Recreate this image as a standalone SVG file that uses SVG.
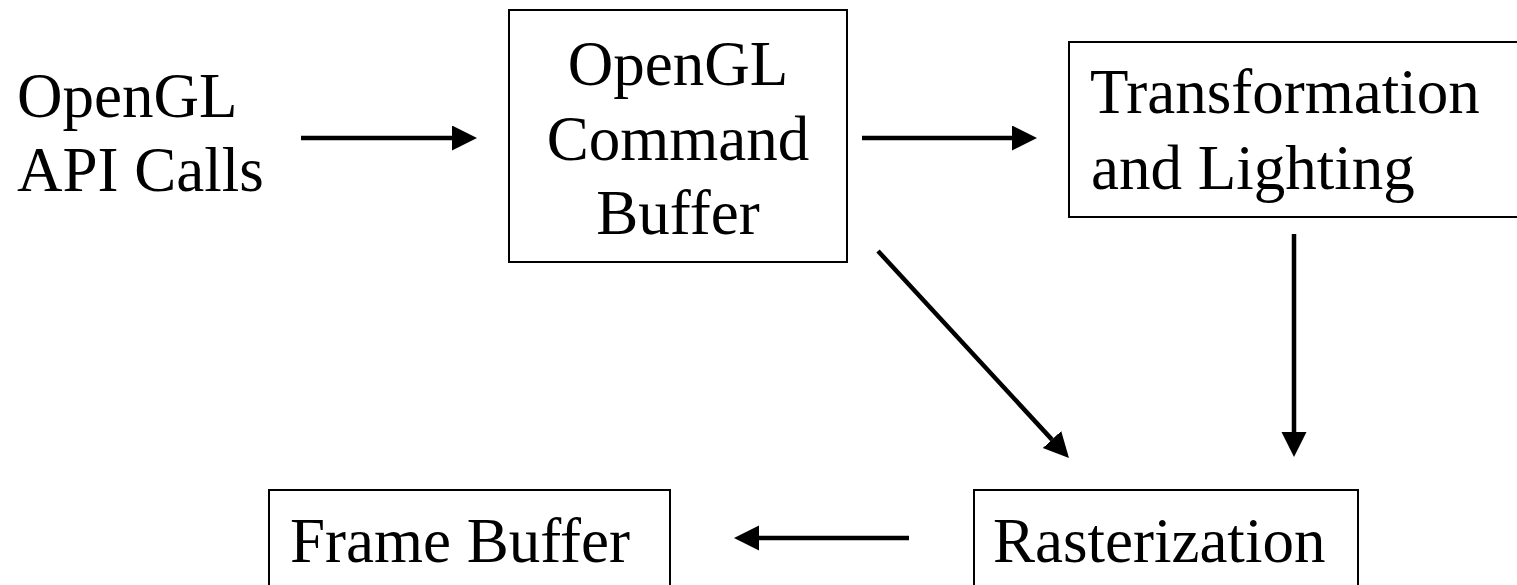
<svg xmlns="http://www.w3.org/2000/svg" width="1517" height="585" viewBox="0 0 1517 585">
  <style>
    .lbl { font-family: "Liberation Serif", "Times New Roman", serif; font-size: 63px; fill: #000; }
    .box { fill: #fff; stroke: #000; stroke-width: 2; }
    .wire { stroke: #000; stroke-width: 4.5; fill: none; marker-end: url(#head); }
  </style>
  <defs>
    <marker id="head" markerUnits="userSpaceOnUse" markerWidth="26" markerHeight="26" refX="0" refY="12.5" orient="auto">
      <path d="M0,0 L25,12.5 L0,25 Z" fill="#000"/>
    </marker>
  </defs>
  <rect width="1517" height="585" fill="#fff"/>

  <!-- pipeline entry point -->
  <g id="api-calls">
    <text class="lbl" x="17" y="117">OpenGL</text>
    <text class="lbl" x="17" y="191">API Calls</text>
  </g>

  <g id="command-buffer">
    <rect class="box" x="509" y="10" width="338" height="252"/>
    <text class="lbl" x="678" y="85" text-anchor="middle">OpenGL</text>
    <text class="lbl" x="678" y="160" text-anchor="middle">Command</text>
    <text class="lbl" x="678" y="234" text-anchor="middle">Buffer</text>
  </g>

  <g id="transform-lighting">
    <rect class="box" x="1069" y="42" width="470" height="175"/>
    <text class="lbl" x="1090" y="113">Transformation</text>
    <text class="lbl" x="1091" y="189">and Lighting</text>
  </g>

  <g id="rasterization">
    <rect class="box" x="974" y="490" width="384" height="120"/>
    <text class="lbl" x="993" y="562">Rasterization</text>
  </g>

  <g id="frame-buffer">
    <rect class="box" x="269" y="490" width="401" height="120"/>
    <text class="lbl" x="290" y="562">Frame Buffer</text>
  </g>

  <!-- data flow between stages -->
  <g id="connectors">
    <line class="wire" x1="301" y1="138" x2="452" y2="138"/>
    <line class="wire" x1="862" y1="138" x2="1012" y2="138"/>
    <line class="wire" x1="878" y1="251" x2="1052" y2="439.6"/>
    <line class="wire" x1="1294" y1="234" x2="1294" y2="432"/>
    <line class="wire" x1="909" y1="538" x2="759" y2="538"/>
  </g>
</svg>
